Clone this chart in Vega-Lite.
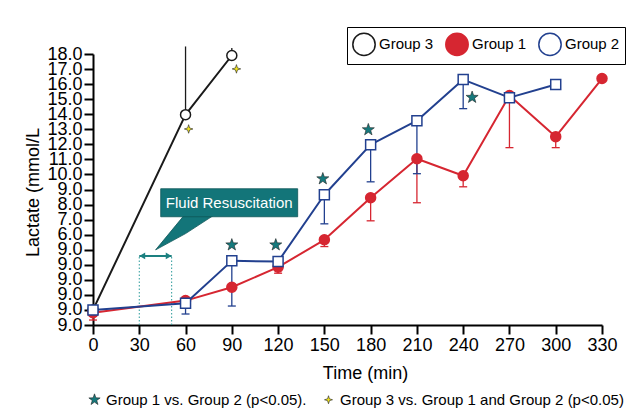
{
  "$schema": "https://vega.github.io/schema/vega-lite/v6.json",
  "width": 509,
  "height": 271,
  "autosize": {"type": "none"},
  "padding": {"left": 93, "top": 54, "right": 38, "bottom": 94},
  "background": "white",
  "config": {
    "view": {"stroke": null},
    "font": "Liberation Sans",
    "axis": {
      "domainColor": "black", "domainWidth": 2, "tickColor": "black", "tickWidth": 2, "tickSize": 9,
      "labelFontSize": 18, "labelColor": "black", "labelPadding": 2, "titleFontSize": 18,
      "titleFontWeight": "normal", "titleColor": "black", "grid": false, "labelOverlap": false,
      "labelFlush": false, "labelBound": false
    }
  },
  "datasets": {
    "series": [
      {"g": "Group 3", "t": 0, "v": 1.0},
      {"g": "Group 3", "t": 60, "v": 13.97, "e": 18.5},
      {"g": "Group 3", "t": 90, "v": 17.9, "e": 18.4},
      {"g": "Group 1", "t": 0, "v": 0.82, "e": 0.33},
      {"g": "Group 1", "t": 60, "v": 1.62},
      {"g": "Group 1", "t": 90, "v": 2.51},
      {"g": "Group 1", "t": 120, "v": 3.84, "e": 3.44},
      {"g": "Group 1", "t": 150, "v": 5.66, "e": 5.21},
      {"g": "Group 1", "t": 180, "v": 8.45, "e": 6.92},
      {"g": "Group 1", "t": 210, "v": 11.04, "e": 8.12},
      {"g": "Group 1", "t": 240, "v": 9.91, "e": 9.18},
      {"g": "Group 1", "t": 270, "v": 15.24, "e": 11.78},
      {"g": "Group 1", "t": 300, "v": 12.51, "e": 11.78},
      {"g": "Group 1", "t": 330, "v": 16.37},
      {"g": "Group 2", "t": 0, "v": 1.0},
      {"g": "Group 2", "t": 60, "v": 1.44, "e": 0.73},
      {"g": "Group 2", "t": 90, "v": 4.26, "e": 1.26},
      {"g": "Group 2", "t": 120, "v": 4.21},
      {"g": "Group 2", "t": 150, "v": 8.65, "e": 6.72},
      {"g": "Group 2", "t": 180, "v": 11.98, "e": 9.51},
      {"g": "Group 2", "t": 210, "v": 13.57, "e": 10.05},
      {"g": "Group 2", "t": 240, "v": 16.3, "e": 14.37},
      {"g": "Group 2", "t": 270, "v": 15.1},
      {"g": "Group 2", "t": 300, "v": 15.97}
    ],
    "sig": [
      {"s": "Group 1 vs. Group 2 (p<0.05).", "t": 90, "v": 5.32},
      {"s": "Group 1 vs. Group 2 (p<0.05).", "t": 118.5, "v": 5.32},
      {"s": "Group 1 vs. Group 2 (p<0.05).", "t": 149, "v": 9.71},
      {"s": "Group 1 vs. Group 2 (p<0.05).", "t": 178.5, "v": 12.97},
      {"s": "Group 1 vs. Group 2 (p<0.05).", "t": 245.8, "v": 15.12},
      {"s": "Group 3 vs. Group 1 and Group 2 (p<0.05)", "t": 62, "v": 13.02},
      {"s": "Group 3 vs. Group 1 and Group 2 (p<0.05)", "t": 93, "v": 17.01}
    ],
    "win": [
      {"t": 30, "v": 0, "e": 4.59},
      {"t": 51, "v": 0, "e": 4.59}
    ],
    "arrow": [{"t": 30, "t2": 51, "v": 4.59}],
    "pointer": [
      {"t": 40.6, "v": 4.99, "e": 4.99},
      {"t": 60, "v": 7.4, "e": 6.07},
      {"t": 80, "v": 7.4, "e": 7.4}
    ],
    "box": [{"t": 43.9, "t2": 132.7, "v": 7.19, "e": 9.05, "label": "Fluid Resuscitation", "tc": 88.3, "vc": 8.12}]
  },
  "encoding": {
    "x": {
      "field": "t", "type": "quantitative",
      "scale": {"domain": [0, 330], "nice": false, "zero": false},
      "axis": {"values": [0, 30, 60, 90, 120, 150, 180, 210, 240, 270, 300, 330], "title": "Time (min)",
        "titleX": 272, "titleY": 53.5, "titleBaseline": "alphabetic", "titleAlign": "center"}
    },
    "y": {
      "field": "v", "type": "quantitative",
      "scale": {"domain": [0, 18], "nice": false, "zero": false},
      "axis": {"values": [0, 1, 2, 3, 4, 5, 6, 7, 8, 9, 10, 11, 12, 13, 14, 15, 16, 17, 18],
        "labelExpr": "datum.value < 6 ? '9.0' : format(datum.value, '.1f')",
        "title": "Lactate (mmol/L", "titleAngle": -90, "titleX": -55, "titleY": 138,
        "titleBaseline": "alphabetic", "titleAlign": "center"}
    }
  },
  "layer": [
    {
      "data": {"name": "win"},
      "mark": {"type": "rule", "stroke": "#2a9a9a", "strokeWidth": 1, "strokeDash": [1.5, 2]},
      "encoding": {"y2": {"field": "e"}}
    },
    {
      "data": {"name": "pointer"},
      "mark": {"type": "area", "fill": "#137579", "stroke": "#0e5658", "strokeWidth": 0.8, "opacity": 1},
      "encoding": {"y2": {"field": "e"}}
    },
    {
      "data": {"name": "box"},
      "mark": {"type": "rect", "fill": "#137579", "stroke": "#0e5658", "strokeWidth": 0.8},
      "encoding": {"x2": {"field": "t2"}, "y2": {"field": "e"}}
    },
    {
      "data": {"name": "box"},
      "mark": {"type": "text", "color": "white", "fontSize": 15, "align": "center", "baseline": "middle"},
      "encoding": {"x": {"field": "tc", "type": "quantitative"}, "y": {"field": "vc", "type": "quantitative"}, "text": {"field": "label"}}
    },
    {
      "data": {"name": "arrow"},
      "mark": {"type": "rule", "stroke": "#1c8080", "strokeWidth": 2},
      "encoding": {"x2": {"field": "t2"}}
    },
    {
      "data": {"name": "arrow"},
      "mark": {"type": "point", "shape": "triangle-left", "filled": true, "color": "#1c8080", "size": 45, "opacity": 1, "xOffset": 3},
      "encoding": {}
    },
    {
      "data": {"name": "arrow"},
      "mark": {"type": "point", "shape": "triangle-right", "filled": true, "color": "#1c8080", "size": 45, "opacity": 1, "xOffset": -3},
      "encoding": {"x": {"field": "t2", "type": "quantitative"}}
    },
    {
      "data": {"name": "series"},
      "transform": [{"filter": "isValid(datum.e)"}],
      "mark": {"type": "rule", "strokeWidth": 1.3},
      "encoding": {
        "y2": {"field": "e"},
        "stroke": {"field": "g", "type": "nominal", "scale": {"domain": ["Group 3", "Group 1", "Group 2"], "range": ["#1a1a1a", "#d62631", "#22408f"]}}
      }
    },
    {
      "data": {"name": "series"},
      "transform": [{"filter": "isValid(datum.e) && datum.g !== 'Group 3'"}],
      "mark": {"type": "rule", "strokeWidth": 1.3, "xOffset": -4, "x2Offset": 4},
      "encoding": {
        "x2": {"field": "t"},
        "y": {"field": "e", "type": "quantitative"},
        "stroke": {"field": "g", "type": "nominal"}
      }
    },
    {
      "data": {"name": "series"},
      "transform": [
        {"window": [{"op": "lead", "field": "t", "as": "tn"}, {"op": "lead", "field": "v", "as": "vn"}], "groupby": ["g"], "sort": [{"field": "t"}]},
        {"filter": "isValid(datum.tn)"}
      ],
      "mark": {"type": "rule", "strokeWidth": 2, "strokeCap": "round"},
      "encoding": {
        "x2": {"field": "tn"},
        "y2": {"field": "vn"},
        "stroke": {"field": "g", "type": "nominal"}
      }
    },
    {
      "data": {"name": "series"},
      "transform": [{"filter": "datum.g !== 'Group 2'"}],
      "mark": {"type": "point", "shape": "circle", "size": 100, "strokeWidth": 1.5, "opacity": 1},
      "encoding": {
        "stroke": {"field": "g", "type": "nominal", "legend": {
          "title": null, "orient": "none", "legendX": 254, "legendY": -27, "direction": "horizontal",
          "strokeColor": "black", "fillColor": "white", "padding": 5, "symbolSize": 500,
          "symbolStrokeWidth": 1.5, "labelFontSize": 15, "labelOffset": 3, "columnPadding": 8, "labelColor": "black",
          "encode": {"symbols": {
            "shape": {"condition": {"test": "datum.value === 'Group 2'", "value": "M-1,0H-0.38M0.38,0H1M-0.38,-0.38H0.38V0.38H-0.38Z"}, "value": "M-1,0H1M-0.38,0A0.38,0.38 0 1,0 0.38,0A0.38,0.38 0 1,0 -0.38,0Z"},
            "fill": {"condition": {"test": "datum.value === 'Group 1'", "value": "#d62631"}, "value": "white"}
          }}
        }},
        "fill": {"field": "g", "type": "nominal", "scale": {"domain": ["Group 3", "Group 1", "Group 2"], "range": ["white", "#d62631", "white"]}, "legend": null}
      }
    },
    {
      "data": {"name": "series"},
      "transform": [{"filter": "datum.g === 'Group 2'"}],
      "mark": {"type": "point", "shape": "square", "size": 100, "strokeWidth": 1.5, "opacity": 1},
      "encoding": {
        "stroke": {"field": "g", "type": "nominal"},
        "fill": {"field": "g", "type": "nominal", "legend": null}
      }
    },
    {
      "data": {"name": "sig"},
      "mark": {"type": "point", "filled": true, "size": 160, "stroke": "#222222", "strokeWidth": 0.6, "opacity": 1},
      "encoding": {
        "shape": {"field": "s", "type": "nominal",
          "scale": {"domain": ["Group 1 vs. Group 2 (p<0.05).", "Group 3 vs. Group 1 and Group 2 (p<0.05)"], "range": ["M0,-1L0.235,-0.324L0.951,-0.309L0.38,0.124L0.588,0.809L0,0.4L-0.588,0.809L-0.38,0.124L-0.951,-0.309L-0.235,-0.324Z", "M0,-0.68L0.16,-0.16L0.68,0L0.16,0.16L0,0.68L-0.16,0.16L-0.68,0L-0.16,-0.16Z"]},
          "legend": {"title": null, "orient": "none", "legendX": -6, "legendY": 338, "direction": "horizontal",
            "symbolSize": 140, "labelFontSize": 15, "labelLimit": 0, "labelOffset": 4, "columnPadding": 14,
            "padding": 0, "labelColor": "black", "symbolStrokeColor": "#222222", "symbolStrokeWidth": 0.6}},
        "color": {"field": "s", "type": "nominal",
          "scale": {"domain": ["Group 1 vs. Group 2 (p<0.05).", "Group 3 vs. Group 1 and Group 2 (p<0.05)"], "range": ["#167a7d", "#f2e51b"]},
          "legend": {"title": null, "orient": "none", "legendX": -6, "legendY": 338, "direction": "horizontal",
            "symbolSize": 140, "labelFontSize": 15, "labelLimit": 0, "labelOffset": 4, "columnPadding": 14,
            "padding": 0, "labelColor": "black", "symbolStrokeColor": "#222222", "symbolStrokeWidth": 0.6}}
      }
    }
  ]
}
